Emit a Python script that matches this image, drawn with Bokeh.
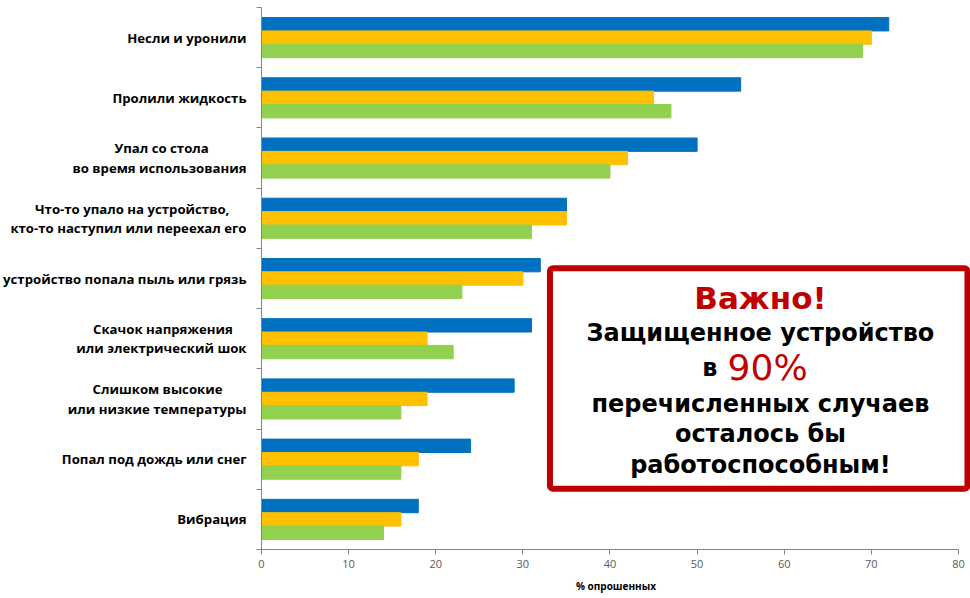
from bokeh.plotting import figure
from bokeh.models import FixedTicker, Range1d, BoxAnnotation, Label
from bokeh.embed import file_html
from bokeh.resources import INLINE

categories = [
    "Несли и уронили",
    "Пролили жидкость",
    "Упал со стола\nво время использования",
    "Что-то упало на устройство,\nкто-то наступил или переехал его",
    "устройство попала пыль или грязь",
    "Скачок напряжения\nили электрический шок",
    "Слишком высокие\nили низкие температуры",
    "Попал под дождь или снег",
    "Вибрация",
]
series_blue = [72, 55, 50, 35, 32, 31, 29, 24, 18]
series_orange = [70, 45, 42, 35, 30, 19, 19, 18, 16]
series_green = [69, 47, 40, 31, 23, 22, 16, 16, 14]
x_ticks = [0, 10, 20, 30, 40, 50, 60, 70, 80]

BLUE = "#0070C0"
ORANGE = "#FFC000"
GREEN = "#92D050"
RED = "#C00000"

n = len(categories)
centers = [i + 0.5 for i in range(n)]
bh = 0.222

# trailing no-break spaces so that right-aligned two-line labels look centred
first_line_pad = {2: 11, 3: 5, 5: 4, 6: 7}


def padded(i, lab):
    if i in first_line_pad:
        a, b = lab.split("\n")
        return a + "\u00a0" * first_line_pad[i] + "\n" + b
    return lab


p = figure(width=970, height=596, output_backend="svg", toolbar_location=None,
           x_range=Range1d(0, 81.38), y_range=Range1d(n, 0),
           min_border_left=261, min_border_right=0, min_border_top=7, min_border_bottom=47)
p.outline_line_color = None
p.grid.grid_line_color = None

p.hbar(y=[c - bh for c in centers], right=series_blue, left=0, height=bh, color=BLUE)
p.hbar(y=centers, right=series_orange, left=0, height=bh, color=ORANGE)
p.hbar(y=[c + bh for c in centers], right=series_green, left=0, height=bh, color=GREEN)

# y axis
p.yaxis.ticker = FixedTicker(ticks=centers, minor_ticks=list(range(n + 1)))
p.yaxis.major_label_overrides = {c: padded(i, lab) for i, (c, lab) in enumerate(zip(centers, categories))}
p.yaxis.major_tick_line_color = None
p.yaxis.major_tick_out = 0
p.yaxis.major_tick_in = 0
p.yaxis.minor_tick_out = 5
p.yaxis.minor_tick_in = 0
p.yaxis.minor_tick_line_color = "#868686"
p.yaxis.axis_line_color = "#868686"
p.yaxis.major_label_text_font = "Open Sans"
p.yaxis.major_label_text_font_style = "bold"
p.yaxis.major_label_text_font_size = "13.2px"
p.yaxis.major_label_text_color = "#000000"
p.yaxis.major_label_text_line_height = 1.08
p.yaxis.major_label_standoff = 10

# x axis
p.xaxis.ticker = FixedTicker(ticks=x_ticks)
p.xaxis.bounds = (0, 80)
p.xaxis.minor_tick_line_color = None
p.xaxis.major_tick_in = 0
p.xaxis.major_tick_out = 5
p.xaxis.major_tick_line_color = "#868686"
p.xaxis.axis_line_color = "#868686"
p.xaxis.major_label_text_font = "Open Sans"
p.xaxis.major_label_text_font_size = "11px"
p.xaxis.major_label_text_color = "#595959"
p.xaxis.major_label_standoff = 5
p.xaxis.axis_label = "% опрошенных"
p.xaxis.axis_label_text_font = "Open Sans"
p.xaxis.axis_label_text_font_style = "bold"
p.xaxis.axis_label_text_font_size = "10px"
p.xaxis.axis_label_text_color = "#000000"
p.xaxis.axis_label_standoff = 8

# callout box
box = BoxAnnotation(left=33.11, right=81.03, top=4.33, bottom=7.99,
                    fill_color="white", fill_alpha=1.0,
                    line_color=RED, line_alpha=1.0, line_width=6, border_radius=3)
p.add_layout(box)

font = "DejaVu Sans"
cx = 57.27
lines = [
    ("Защищенное устройство", 5.41),
    ("перечисленных случаев", 6.58),
    ("осталось бы", 7.09),
    ("работоспособным!", 7.59),
]
p.add_layout(Label(x=cx, y=4.82, text="Важно!", text_align="center", text_baseline="middle",
                   text_font=font, text_font_style="bold", text_font_size="31px", text_color=RED))
for t, yy in lines:
    p.add_layout(Label(x=cx, y=yy, text=t, text_align="center", text_baseline="middle",
                       text_font=font, text_font_style="bold", text_font_size="24px", text_color="black"))
p.add_layout(Label(x=52.34, y=5.99, text="в", text_align="right", text_baseline="middle",
                   text_font=font, text_font_style="bold", text_font_size="24px", text_color="black"))
p.add_layout(Label(x=53.5, y=5.97, text="90%", text_align="left", text_baseline="middle",
                   text_font=font, text_font_size="36px", text_color=RED))

open("out.html", "w").write(file_html(p, INLINE))
